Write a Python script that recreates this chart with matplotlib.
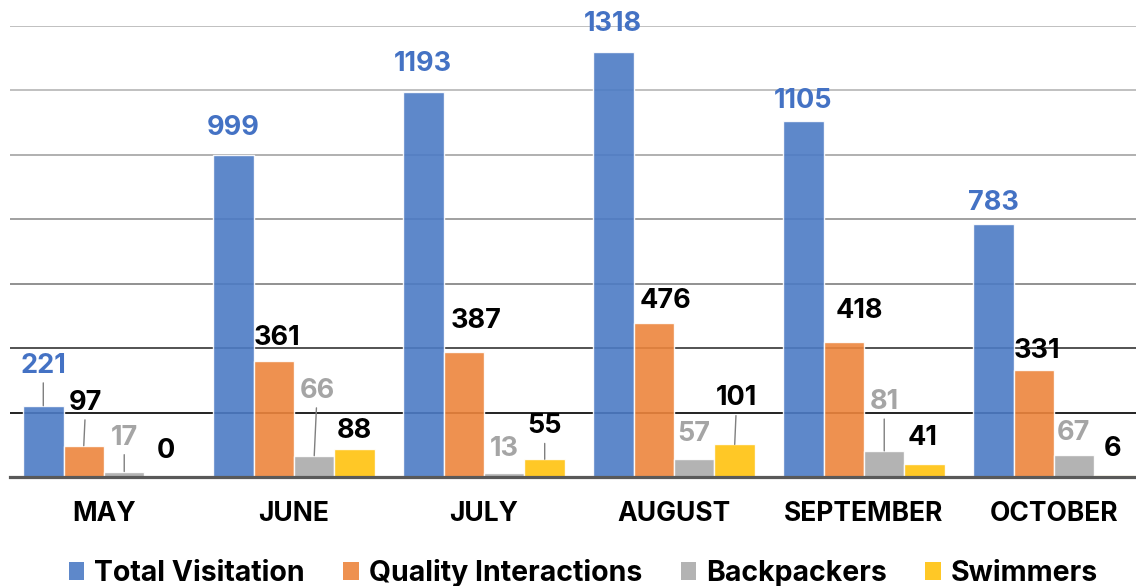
import matplotlib
matplotlib.use('Agg')
import matplotlib.pyplot as plt
import numpy as np
from matplotlib.patches import Patch

# ---------------- data ----------------
months = ['MAY', 'JUNE', 'JULY', 'AUGUST', 'SEPTEMBER', 'OCTOBER']
series_names = ['Total Visitation', 'Quality Interactions', 'Backpackers', 'Swimmers']
total_visitation = [221, 999, 1193, 1318, 1105, 783]
quality_interactions = [97, 361, 387, 476, 418, 331]
backpackers = [17, 66, 13, 57, 81, 67]
swimmers = [0, 88, 55, 101, 41, 6]
grid_levels = [200, 400, 600, 800, 1000, 1200, 1400]

# ---------------- styles ----------------
bar_colors = ['#4c7bc5', '#ed853d', '#ababab', '#ffc20e']
label_colors = ['#4472c4', '#000000', '#a5a5a5', '#000000']
grid_colors = ['#111111', '#444444', '#888888', '#999999', '#aaaaaa', '#bbbbbb', '#bbbbbb']

# label offsets in pixels (dx, dy) relative to bar top centre, and leader-line flags
label_offsets = [
    [(0, 40), (0, 27), (0, 28), (0, 28), (0, 20), (0, 21)],
    [(2, 43), (3, 23), (12, 31), (12, 22), (16, 31), (3, 19)],
    [(0, 34), (3, 65), (0, 24), (0, 25), (0, 49), (-1, 22)],
    [(1, 26), (0, 18), (0, 33), (2, 46), (-2, 26), (-2, 26)],
]
leaders = [
    [True, False, False, False, False, False],
    [True, False, False, False, False, False],
    [True, True, False, False, True, False],
    [False, False, True, True, False, False],
]

FONT = ['Inter', 'DejaVu Sans']
plt.rcParams['font.family'] = FONT

fig = plt.figure(figsize=(11.36, 5.86), dpi=100)
ax = fig.add_axes([10 / 1136, 109 / 586, 1 - 10 / 1136, (477 - 25.5) / 586])

series = [total_visitation, quality_interactions, backpackers, swimmers]
x = np.arange(len(months))
w = 0.213
shifts = np.array([-1.5, -0.5, 0.5, 1.5]) * w

for lvl, gc in zip(grid_levels, grid_colors):
    ax.axhline(lvl, color=gc, lw=1.3, zorder=1)

for si, (vals, col) in enumerate(zip(series, bar_colors)):
    bars = ax.bar(x + shifts[si], vals, width=w, color=col, alpha=0.9,
                  edgecolor=(1, 1, 1, 0.7), linewidth=1.0, zorder=2,
                  label=series_names[si])
    for bi, v in enumerate(vals):
        dx, dy = label_offsets[si][bi]
        kw = {}
        if leaders[si][bi]:
            kw['arrowprops'] = dict(arrowstyle='-', color='#7f7f7f', lw=1.0,
                                    shrinkA=1, shrinkB=0)
        ax.annotate(str(v), xy=(x[bi] + shifts[si], v),
                    xytext=(dx, dy), textcoords='offset pixels',
                    ha='center', va='center', fontsize=19.5, fontweight='bold',
                    color=label_colors[si], zorder=5, **kw)

ax.set_xlim(-0.4947, 5.4316)
ax.set_ylim(0, 1400)
ax.set_yticks([])
ax.set_xticks(x, months)
for t in ax.get_xticklabels():
    t.set_fontsize(19)
    t.set_fontweight('bold')
ax.tick_params(axis='x', length=0, pad=17)
for s in ['left', 'right', 'top']:
    ax.spines[s].set_visible(False)
ax.spines['bottom'].set_color('#595959')
ax.spines['bottom'].set_linewidth(2.3)
ax.spines['bottom'].set_zorder(4)

handles = [Patch(facecolor=c, alpha=0.9, edgecolor='none') for c in bar_colors]
fig.legend(handles, series_names, loc='center', bbox_to_anchor=(0.5136, 0.022),
           ncol=4, frameon=False, prop={'size': 20.5, 'weight': 'bold'},
           handlelength=0.55, handleheight=0.55, handletextpad=0.35, columnspacing=1.35,
           borderpad=0)

fig.savefig('out.png', dpi=100)
